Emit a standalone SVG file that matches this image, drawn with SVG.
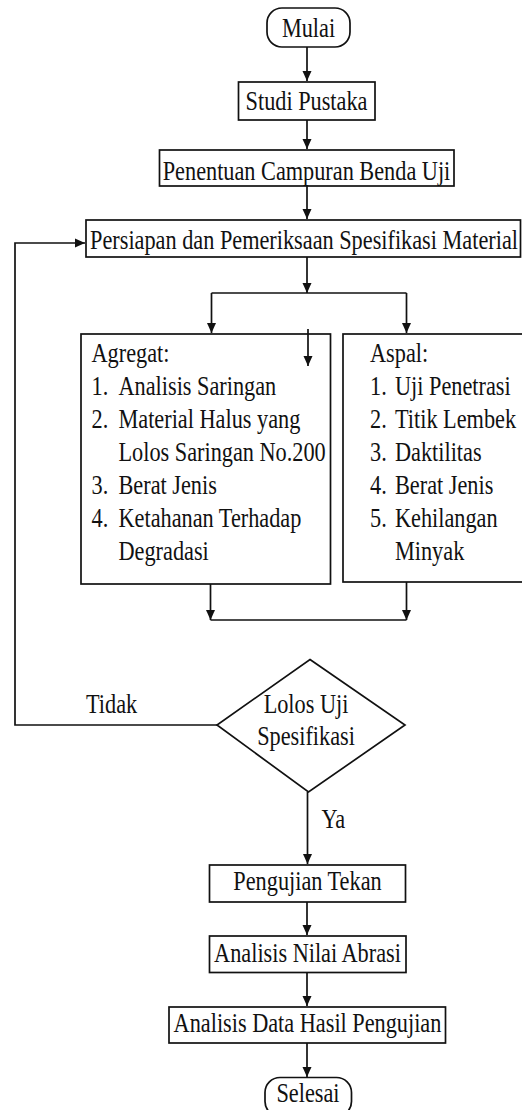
<svg xmlns="http://www.w3.org/2000/svg" width="522" height="1110" viewBox="0 0 522 1110">
<style>
.b{fill:#fff;stroke:#111;stroke-width:1.7}
.t{font-family:'Liberation Serif',serif;font-size:27.5px;fill:#111}
.m{text-anchor:middle}
.c{fill:none;stroke:#111;stroke-width:1.7}
</style>
<defs>
<marker id="ah" viewBox="0 0 10 10" refX="10" refY="5" markerWidth="10" markerHeight="10" markerUnits="userSpaceOnUse" orient="auto">
<path d="M0,0.5 L10,5 L0,9.5 Z" fill="#111"/>
</marker>
</defs>
<rect width="522" height="1110" fill="#fff"/>
<g id="connectors">
<path class="c" d="M307,47 V81" marker-end="url(#ah)"/>
<path class="c" d="M307,120 V149" marker-end="url(#ah)"/>
<path class="c" d="M307,186 V219" marker-end="url(#ah)"/>
<path class="c" d="M307,257 V293" marker-end="url(#ah)"/>
<path class="c" d="M211.5,293 H406.5"/>
<path class="c" d="M211.5,293 V333" marker-end="url(#ah)"/>
<path class="c" d="M406.5,293 V333" marker-end="url(#ah)"/>
<path class="c" d="M210.5,584 V620" marker-end="url(#ah)"/>
<path class="c" d="M406.5,582 V620" marker-end="url(#ah)"/>
<path class="c" d="M210.5,620 H406.5"/>
<path class="c" d="M217,725 H15 V243 H85" marker-end="url(#ah)"/>
<path class="c" d="M307.5,792 V864" marker-end="url(#ah)"/>
<path class="c" d="M307,902 V935" marker-end="url(#ah)"/>
<path class="c" d="M307,972.5 V1006" marker-end="url(#ah)"/>
<path class="c" d="M307,1043 V1077" marker-end="url(#ah)"/>
</g>
<g id="mulai">
<rect class="b" x="267" y="8" width="83" height="39" rx="15"/>
<text class="t m" font-family="Liberation Serif" transform="translate(308.5 36.5) scale(0.81 1)">Mulai</text>
</g>
<g id="studi">
<rect class="b" x="238.5" y="82" width="136.5" height="38"/>
<text class="t m" transform="translate(306.5 110) scale(0.81 1)">Studi Pustaka</text>
</g>
<g id="penentuan">
<rect class="b" x="159.5" y="150" width="294.5" height="36"/>
<text class="t m" transform="translate(306.5 179.5) scale(0.81 1)">Penentuan Campuran Benda Uji</text>
</g>
<g id="persiapan">
<rect class="b" x="86" y="220" width="434.5" height="37"/>
<text class="t m" transform="translate(304 248.5) scale(0.81 1)">Persiapan dan Pemeriksaan Spesifikasi Material</text>
</g>
<g id="agregat">
<rect class="b" x="81" y="334" width="249.5" height="250"/>
<text class="t" transform="translate(91.5 361.5) scale(0.81 1)">Agregat:</text>
<text class="t" transform="translate(91.5 395) scale(0.81 1)">1.</text>
<text class="t" transform="translate(118.5 395) scale(0.81 1)">Analisis Saringan</text>
<text class="t" transform="translate(91.5 428) scale(0.81 1)">2.</text>
<text class="t" transform="translate(118.5 428) scale(0.81 1)">Material Halus yang</text>
<text class="t" transform="translate(118.5 461) scale(0.81 1)">Lolos Saringan No.200</text>
<text class="t" transform="translate(91.5 494) scale(0.81 1)">3.</text>
<text class="t" transform="translate(118.5 494) scale(0.81 1)">Berat Jenis</text>
<text class="t" transform="translate(91.5 527) scale(0.81 1)">4.</text>
<text class="t" transform="translate(118.5 527) scale(0.81 1)">Ketahanan Terhadap</text>
<text class="t" transform="translate(118.5 559.5) scale(0.81 1)">Degradasi</text>
<path class="c" d="M308,329 V366" marker-end="url(#ah)"/>
</g>
<g id="aspal">
<rect class="b" x="343" y="334" width="182" height="248"/>
<text class="t" transform="translate(370 361.5) scale(0.81 1)">Aspal:</text>
<text class="t" transform="translate(370 395) scale(0.81 1)">1.</text>
<text class="t" transform="translate(395 395) scale(0.81 1)">Uji Penetrasi</text>
<text class="t" transform="translate(370 428) scale(0.81 1)">2.</text>
<text class="t" transform="translate(395 428) scale(0.81 1)">Titik Lembek</text>
<text class="t" transform="translate(370 461) scale(0.81 1)">3.</text>
<text class="t" transform="translate(395 461) scale(0.81 1)">Daktilitas</text>
<text class="t" transform="translate(370 494) scale(0.81 1)">4.</text>
<text class="t" transform="translate(395 494) scale(0.81 1)">Berat Jenis</text>
<text class="t" transform="translate(370 527) scale(0.81 1)">5.</text>
<text class="t" transform="translate(395 527) scale(0.81 1)">Kehilangan</text>
<text class="t" transform="translate(395 559.5) scale(0.81 1)">Minyak</text>
</g>
<g id="keputusan">
<polygon class="b" points="310,659.5 405,725 308.5,792 217,725"/>
<text class="t m" transform="translate(306 713) scale(0.81 1)">Lolos Uji</text>
<text class="t m" transform="translate(306 745) scale(0.81 1)">Spesifikasi</text>
</g>
<g id="label-tidak">
<text class="t" transform="translate(86 713) scale(0.81 1)">Tidak</text>
</g>
<g id="label-ya">
<text class="t" transform="translate(321.5 828) scale(0.81 1)">Ya</text>
</g>
<g id="pengujian">
<rect class="b" x="209.5" y="865" width="196" height="37"/>
<text class="t m" transform="translate(307.5 890) scale(0.81 1)">Pengujian Tekan</text>
</g>
<g id="abrasi">
<rect class="b" x="209.5" y="936" width="196.5" height="36.5"/>
<text class="t m" transform="translate(307.5 961.5) scale(0.81 1)">Analisis Nilai Abrasi</text>
</g>
<g id="analisis-data">
<rect class="b" x="169" y="1007" width="276.5" height="36"/>
<text class="t m" transform="translate(307.5 1031.5) scale(0.81 1)">Analisis Data Hasil Pengujian</text>
</g>
<g id="selesai">
<rect class="b" x="265" y="1077.5" width="86.5" height="39" rx="15"/>
<text class="t m" transform="translate(308 1101.5) scale(0.81 1)">Selesai</text>
</g>
</svg>
